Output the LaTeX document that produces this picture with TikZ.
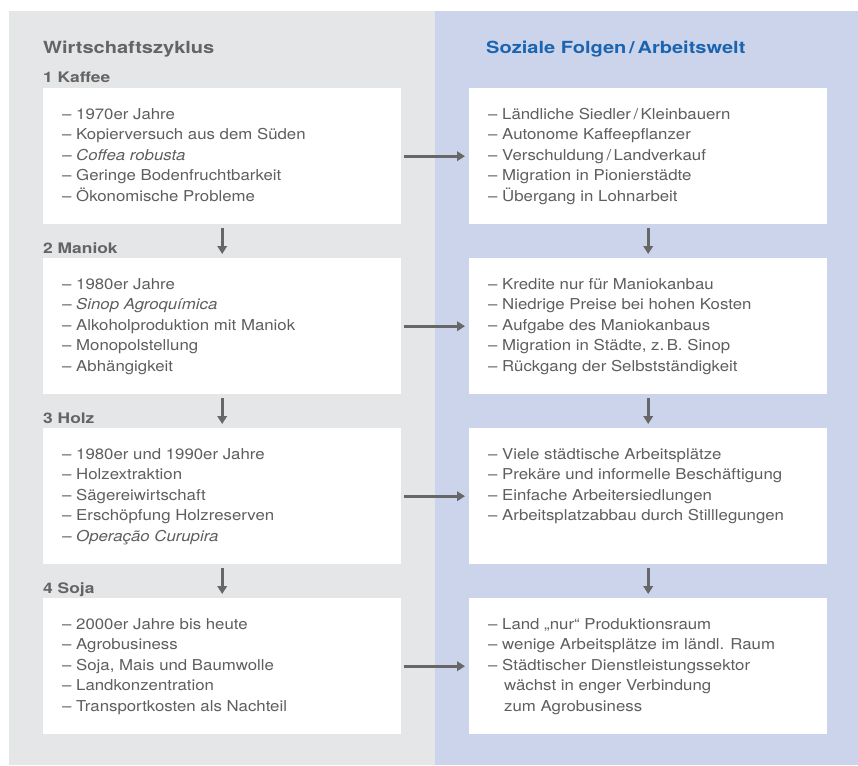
\documentclass[tikz,border=0pt]{standalone}
\usepackage{fontspec}
\setmainfont{TeX Gyre Heros}[FakeStretch=1.12]
\newfontfamily\headfont{TeX Gyre Heros}[FakeStretch=1.2]
\usetikzlibrary{arrows.meta}
\definecolor{panelgray}{HTML}{E5E6E8}
\definecolor{panelblue}{HTML}{CCD4EB}
\definecolor{txtgray}{HTML}{5E5E5E}
\definecolor{ttlgray}{HTML}{646464}
\definecolor{ttlblue}{HTML}{1A64B0}
\definecolor{arrgray}{HTML}{676767}
\newcommand\li{\makebox[14pt][l]{–}}
\newcommand\cont{\hspace*{16pt}}
\newenvironment{itemlist}{\begin{tabular}[t]{@{}l@{}}}{\end{tabular}}
\begin{document}
\begin{tikzpicture}[x=1pt,y=-1pt,
  box/.style={fill=white, minimum width=358pt, minimum height=136pt, inner sep=0pt, anchor=north west},
  list/.style={anchor=base west, inner sep=0pt, text=txtgray, font=\fontsize{15}{20.5}\selectfont},
  heading/.style={anchor=base west, inner sep=0pt, font=\headfont\bfseries\fontsize{16.7}{20}\selectfont},
  label/.style={anchor=base west, inner sep=0pt, text=ttlgray, font=\headfont\bfseries\fontsize{14.5}{16}\selectfont},
  flow/.style={draw=arrgray, line width=3.2pt, -{Triangle[length=8pt,width=9.5pt]}},
]
\useasboundingbox (0,0) rectangle (858,765);
\fill[white] (0,0) rectangle (858,765);
\fill[panelgray] (9,11) rectangle (435,765);
\fill[panelblue] (435,11) rectangle (858,765);

\node[heading, text=ttlgray] (tl) at (43,54) {Wirtschaftszyklus};
\node[heading, text=ttlblue] (tr) at (486,54) {Soziale Folgen\,/\,Arbeitswelt};

% labels
\node[label] (lab1) at (43,83) {1 Kaffee};
\node[label] (lab2) at (43,253) {2 Maniok};
\node[label] (lab3) at (43,423) {3 Holz};
\node[label] (lab4) at (43,593) {4 Soja};

% boxes
\node[box] (l1) at (43,88) {};
\node[box] (l2) at (43,258) {};
\node[box] (l3) at (43,428) {};
\node[box] (l4) at (43,598) {};
\node[box] (r1) at (469,88) {};
\node[box] (r2) at (469,258) {};
\node[box] (r3) at (469,428) {};
\node[box] (r4) at (469,598) {};

% texts
\node[list] (tl1) at (62,119) {\begin{itemlist}
\li 1970er Jahre\\
\li Kopierversuch aus dem Süden\\
{\itshape\li Coffea robusta}\\
\li Geringe Bodenfruchtbarkeit\\
\li Ökonomische Probleme
\end{itemlist}};
\node[list] (tr1) at (488,119) {\begin{itemlist}
\li Ländliche Siedler\,/\,Kleinbauern\\
\li Autonome Kaffeepflanzer\\
\li Verschuldung\,/\,Landverkauf\\
\li Migration in Pionierstädte\\
\li Übergang in Lohnarbeit
\end{itemlist}};
\node[list] (tl2) at (62,289) {\begin{itemlist}
\li 1980er Jahre\\
{\itshape\li Sinop Agroquímica}\\
\li Alkoholproduktion mit Maniok\\
\li Monopolstellung\\
\li Abhängigkeit
\end{itemlist}};
\node[list] (tr2) at (488,289) {\begin{itemlist}
\li Kredite nur für Maniokanbau\\
\li Niedrige Preise bei hohen Kosten\\
\li Aufgabe des Maniokanbaus\\
\li Migration in Städte, z.\,B. Sinop\\
\li Rückgang der Selbstständigkeit
\end{itemlist}};
\node[list] (tl3) at (62,459) {\begin{itemlist}
\li 1980er und 1990er Jahre\\
\li Holzextraktion\\
\li Sägereiwirtschaft\\
\li Erschöpfung Holzreserven\\
{\itshape\li Operação Curupira}
\end{itemlist}};
\node[list] (tr3) at (488,459) {\begin{itemlist}
\li Viele städtische Arbeitsplätze\\
\li Prekäre und informelle Beschäftigung\\
\li Einfache Arbeitersiedlungen\\
\li Arbeitsplatzabbau durch Stilllegungen
\end{itemlist}};
\node[list] (tl4) at (62,629) {\begin{itemlist}
\li 2000er Jahre bis heute\\
\li Agrobusiness\\
\li Soja, Mais und Baumwolle\\
\li Landkonzentration\\
\li Transportkosten als Nachteil
\end{itemlist}};
\node[list] (tr4) at (488,629) {\begin{itemlist}
\li Land „nur“ Produktionsraum\\
\li wenige Arbeitsplätze im ländl. Raum\\
\li Städtischer Dienstleistungssektor\\
\cont wächst in enger Verbindung\\
\cont zum Agrobusiness
\end{itemlist}};

% horizontal arrows
\foreach \i in {1,2,3,4}{
  \draw[flow, shorten <=3pt, shorten >=4pt] (l\i.east) -- (r\i.west);
}
% vertical arrows
\foreach \a/\b in {1/2,2/3,3/4}{
  \draw[flow, shorten <=4pt, shorten >=4pt] (l\a.south) -- (l\b.north);
  \draw[flow, shorten <=4pt, shorten >=4pt] (r\a.south) -- (r\b.north);
}
\end{tikzpicture}
\end{document}
